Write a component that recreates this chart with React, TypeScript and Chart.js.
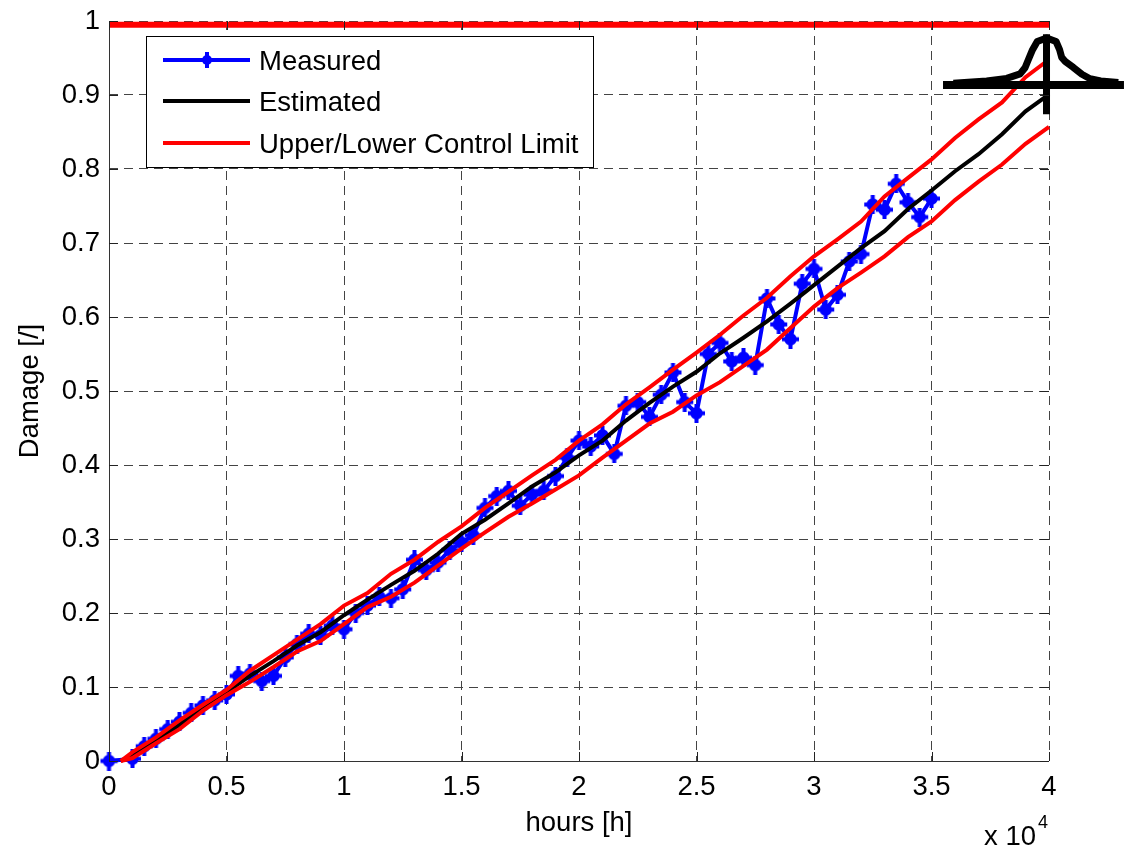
import React, { useEffect, useRef } from "react";
import { Chart, registerables } from "chart.js";

Chart.register(...registerables);

const measuredHours = [0, 1000, 1500, 2000, 2500, 3000, 3500, 4000, 4500, 5000, 5500, 6000, 6500, 7000, 7500, 8000, 8500, 9000, 9500, 10000, 10500, 11000, 11500, 12000, 12500, 13000, 13500, 14000, 14500, 15000, 15500, 16000, 16500, 17000, 17500, 18000, 18500, 19000, 19500, 20000, 20500, 21000, 21500, 22000, 22500, 23000, 23500, 24000, 24500, 25000, 25500, 26000, 26500, 27000, 27500, 28000, 28500, 29000, 29500, 30000, 30500, 31000, 31500, 32000, 32500, 33000, 33500, 34000, 34500, 35000];
const measured = [0, 0.003, 0.02, 0.03, 0.043, 0.053, 0.065, 0.075, 0.082, 0.09, 0.115, 0.118, 0.108, 0.115, 0.14, 0.158, 0.172, 0.17, 0.183, 0.178, 0.2, 0.21, 0.222, 0.22, 0.232, 0.272, 0.258, 0.268, 0.285, 0.295, 0.305, 0.342, 0.358, 0.365, 0.345, 0.36, 0.365, 0.385, 0.41, 0.433, 0.425, 0.44, 0.415, 0.48, 0.485, 0.465, 0.495, 0.525, 0.485, 0.47, 0.55, 0.565, 0.54, 0.545, 0.535, 0.625, 0.59, 0.57, 0.645, 0.665, 0.61, 0.63, 0.675, 0.685, 0.752, 0.745, 0.78, 0.755, 0.735, 0.76];

const limitHours = [500, 1000, 2000, 3000, 4000, 5000, 6000, 7000, 8000, 9000, 10000, 11000, 12000, 13000, 14000, 15000, 16000, 17000, 18000, 19000, 20000, 21000, 22000, 23000, 24000, 25000, 26000, 27000, 28000, 29000, 30000, 31000, 32000, 33000, 34000, 35000, 36000, 37000, 38000, 39000, 40000];
const estimated = [0, 0.008, 0.028, 0.049, 0.072, 0.093, 0.115, 0.135, 0.156, 0.174, 0.197, 0.218, 0.238, 0.257, 0.28, 0.307, 0.326, 0.348, 0.371, 0.39, 0.413, 0.433, 0.46, 0.484, 0.506, 0.526, 0.551, 0.572, 0.594, 0.618, 0.643, 0.668, 0.693, 0.716, 0.746, 0.771, 0.797, 0.82, 0.847, 0.878, 0.901];
const upperLimit = [0, 0.012, 0.032, 0.055, 0.076, 0.096, 0.122, 0.143, 0.164, 0.185, 0.21, 0.227, 0.253, 0.272, 0.296, 0.317, 0.342, 0.364, 0.386, 0.407, 0.433, 0.455, 0.482, 0.505, 0.529, 0.552, 0.576, 0.602, 0.626, 0.655, 0.682, 0.705, 0.729, 0.763, 0.788, 0.813, 0.842, 0.867, 0.89, 0.924, 0.948];
const lowerLimit = [0, 0.004, 0.024, 0.043, 0.068, 0.089, 0.107, 0.127, 0.148, 0.162, 0.185, 0.208, 0.222, 0.241, 0.264, 0.287, 0.309, 0.33, 0.348, 0.367, 0.386, 0.41, 0.433, 0.456, 0.472, 0.494, 0.512, 0.534, 0.556, 0.585, 0.614, 0.639, 0.66, 0.682, 0.708, 0.729, 0.758, 0.783, 0.806, 0.834, 0.857];

const failureHours = [0, 40000];
const failureLevel = [0.995, 0.995];

// listed from right to left so that the part beyond the axis limit is still drawn
const bellHours = [42950, 42200, 41745, 41400, 41035, 40700, 40540, 40450, 40300, 39900, 39500, 39300, 39120, 38980, 38770, 38200, 37350, 35930];
const bellLevel = [0.917, 0.919, 0.922, 0.928, 0.9373, 0.945, 0.9508, 0.9613, 0.9723, 0.977, 0.9723, 0.9613, 0.9476, 0.9368, 0.9285, 0.9225, 0.919, 0.916];
const baseHours = [35490, 43190];
const baseLevel = [0.9134, 0.9134];
const stemHours = [39894, 39894];
const stemLevel = [0.982, 0.874];

const legendLabels = ["Measured", "Estimated", "Upper/Lower Control Limit"];
const xAxisTitle = "hours [h]";
const yAxisTitle = "Damage [/]";

const FONT = '"Liberation Sans", Arial, sans-serif';
const TEXT_SIZE = 27.5;
const pts = (xs: number[], ys: number[]) => xs.map((x, i) => ({ x, y: ys[i] }));

function makeMarker() {
  const c = document.createElement("canvas");
  c.width = 19;
  c.height = 19;
  const g = c.getContext("2d")!;
  g.fillStyle = "#0000ff";
  g.fillRect(7.5, 0, 4, 19);
  g.fillRect(1, 7.5, 17, 4);
  g.beginPath();
  g.arc(9.5, 9.5, 6.2, 0, Math.PI * 2);
  g.fill();
  return c;
}

const overlay = {
  id: "overlay",
  afterDatasetsDraw(chart: any) {
    const { ctx, chartArea: a, scales } = chart;
    ctx.save();
    ctx.strokeStyle = "#222";
    ctx.lineWidth = 1;
    ctx.beginPath();
    scales.x.ticks.forEach((t: any) => {
      const p = Math.round(scales.x.getPixelForValue(t.value)) + 0.5;
      ctx.moveTo(p, a.bottom);
      ctx.lineTo(p, a.bottom - 9);
      ctx.moveTo(p, a.top);
      ctx.lineTo(p, a.top + 9);
    });
    scales.y.ticks.forEach((t: any) => {
      const p = Math.round(scales.y.getPixelForValue(t.value)) + 0.5;
      ctx.moveTo(a.left, p);
      ctx.lineTo(a.left + 9, p);
      ctx.moveTo(a.right, p);
      ctx.lineTo(a.right - 9, p);
    });
    ctx.stroke();

    ctx.fillStyle = "#fff";
    ctx.fillRect(146, 36, 448, 132);
    ctx.strokeStyle = "#000";
    ctx.lineWidth = 1;
    ctx.strokeRect(146.5, 36.5, 447, 131);
    const rows = [
      { y: 60, color: "#0000ff" },
      { y: 101, color: "#000000" },
      { y: 143, color: "#ff0000" },
    ];
    rows.forEach((r, i) => {
      ctx.strokeStyle = r.color;
      ctx.lineWidth = 4;
      ctx.beginPath();
      ctx.moveTo(163, r.y);
      ctx.lineTo(250, r.y);
      ctx.stroke();
      ctx.fillStyle = "#000";
      ctx.font = `${TEXT_SIZE}px ${FONT}`;
      ctx.textAlign = "left";
      ctx.textBaseline = "middle";
      ctx.fillText(legendLabels[i], 259, r.y + 2);
    });
    ctx.fillStyle = "#0000ff";
    ctx.beginPath();
    ctx.arc(207, 60, 5, 0, Math.PI * 2);
    ctx.fill();
    ctx.fillRect(205, 52, 4, 16);

    ctx.fillStyle = "#000";
    ctx.textBaseline = "alphabetic";
    ctx.font = `${TEXT_SIZE}px ${FONT}`;
    ctx.fillText("x 10", 984, 845);
    ctx.font = `18px ${FONT}`;
    ctx.fillText("4", 1038, 828);
    ctx.restore();
  },
};

export default function App() {
  const ref = useRef<HTMLCanvasElement>(null);
  useEffect(() => {
    document.body.style.margin = "0";
    const marker = makeMarker();
    const chart = new Chart(ref.current!, {
      type: "line",
      data: {
        datasets: [
          { label: "stem", data: pts(stemHours, stemLevel), borderColor: "#000", borderWidth: 7, pointRadius: 0, clip: false, borderCapStyle: "butt", order: 0 },
          { label: "base", data: pts(baseHours, baseLevel), borderColor: "#000", borderWidth: 8, pointRadius: 0, clip: false, borderCapStyle: "butt", order: 0 },
          { label: "bell", data: pts(bellHours, bellLevel), borderColor: "#000", borderWidth: 7, pointRadius: 0, clip: false, borderJoinStyle: "round", order: 0 },
          { label: "Failure", data: pts(failureHours, failureLevel), borderColor: "#ff0000", borderWidth: 6, pointRadius: 0, clip: false, order: 1 },
          { label: legendLabels[2], data: pts(limitHours, upperLimit), borderColor: "#ff0000", borderWidth: 4, pointRadius: 0, clip: false, order: 1 },
          { label: legendLabels[2], data: pts(limitHours, lowerLimit), borderColor: "#ff0000", borderWidth: 4, pointRadius: 0, clip: false, order: 1 },
          { label: legendLabels[1], data: pts(limitHours, estimated), borderColor: "#000", borderWidth: 4, pointRadius: 0, clip: false, order: 2 },
          { label: legendLabels[0], data: pts(measuredHours, measured), borderColor: "#0000ff", backgroundColor: "#0000ff", borderWidth: 4, pointStyle: marker, pointRadius: 9, clip: false, order: 3 },
        ],
      } as any,
      options: {
        animation: false,
        responsive: false,
        layout: { padding: { top: 21, right: 75, left: 0, bottom: 0 }, autoPadding: false } as any,
        plugins: { legend: { display: false }, tooltip: { enabled: false } },
        scales: {
          x: {
            type: "linear",
            min: 0,
            max: 40000,
            ticks: { stepSize: 5000, color: "#000", font: { family: FONT, size: TEXT_SIZE }, padding: 10, maxRotation: 0, callback: (v: any) => String(Number(v) / 10000) },
            grid: { color: "#444", lineWidth: 1, drawTicks: false } as any,
            border: { color: "#333", dash: [9, 6], display: false } as any,
            title: { display: true, text: xAxisTitle, color: "#000", font: { family: FONT, size: TEXT_SIZE }, padding: { top: 0, bottom: 8 } },
            afterFit: (s: any) => { s.height = 87; s.paddingLeft = 0; s.paddingRight = 0; },
          },
          y: {
            type: "linear",
            min: 0,
            max: 1,
            ticks: { stepSize: 0.1, color: "#000", font: { family: FONT, size: TEXT_SIZE, lineHeight: 1 }, padding: 9, callback: (v: any) => String(Number(Number(v).toFixed(1))) },
            grid: { color: "#444", lineWidth: 1, drawTicks: false } as any,
            border: { color: "#333", dash: [9, 6], display: false } as any,
            title: { display: true, text: yAxisTitle, color: "#000", font: { family: FONT, size: TEXT_SIZE }, padding: { top: 14, bottom: 0 } },
            afterFit: (s: any) => { s.width = 109; s.paddingTop = 0; s.paddingBottom = 0; },
          },
        },
      },
      plugins: [
        overlay,
        {
          id: "axisLines",
          beforeDatasetsDraw(c: any) {
            const { ctx, chartArea: a } = c;
            ctx.save();
            ctx.strokeStyle = "#333";
            ctx.lineWidth = 1;
            ctx.beginPath();
            ctx.moveTo(a.left + 0.5, a.top);
            ctx.lineTo(a.left + 0.5, a.bottom + 0.5);
            ctx.lineTo(a.right, a.bottom + 0.5);
            ctx.stroke();
            ctx.restore();
          },
        },
      ],
    } as any);
    return () => chart.destroy();
  }, []);
  return (
    <div style={{ width: 1124, height: 848 }}>
      <canvas ref={ref} width={1124} height={848} style={{ display: "block" }} />
    </div>
  );
}
